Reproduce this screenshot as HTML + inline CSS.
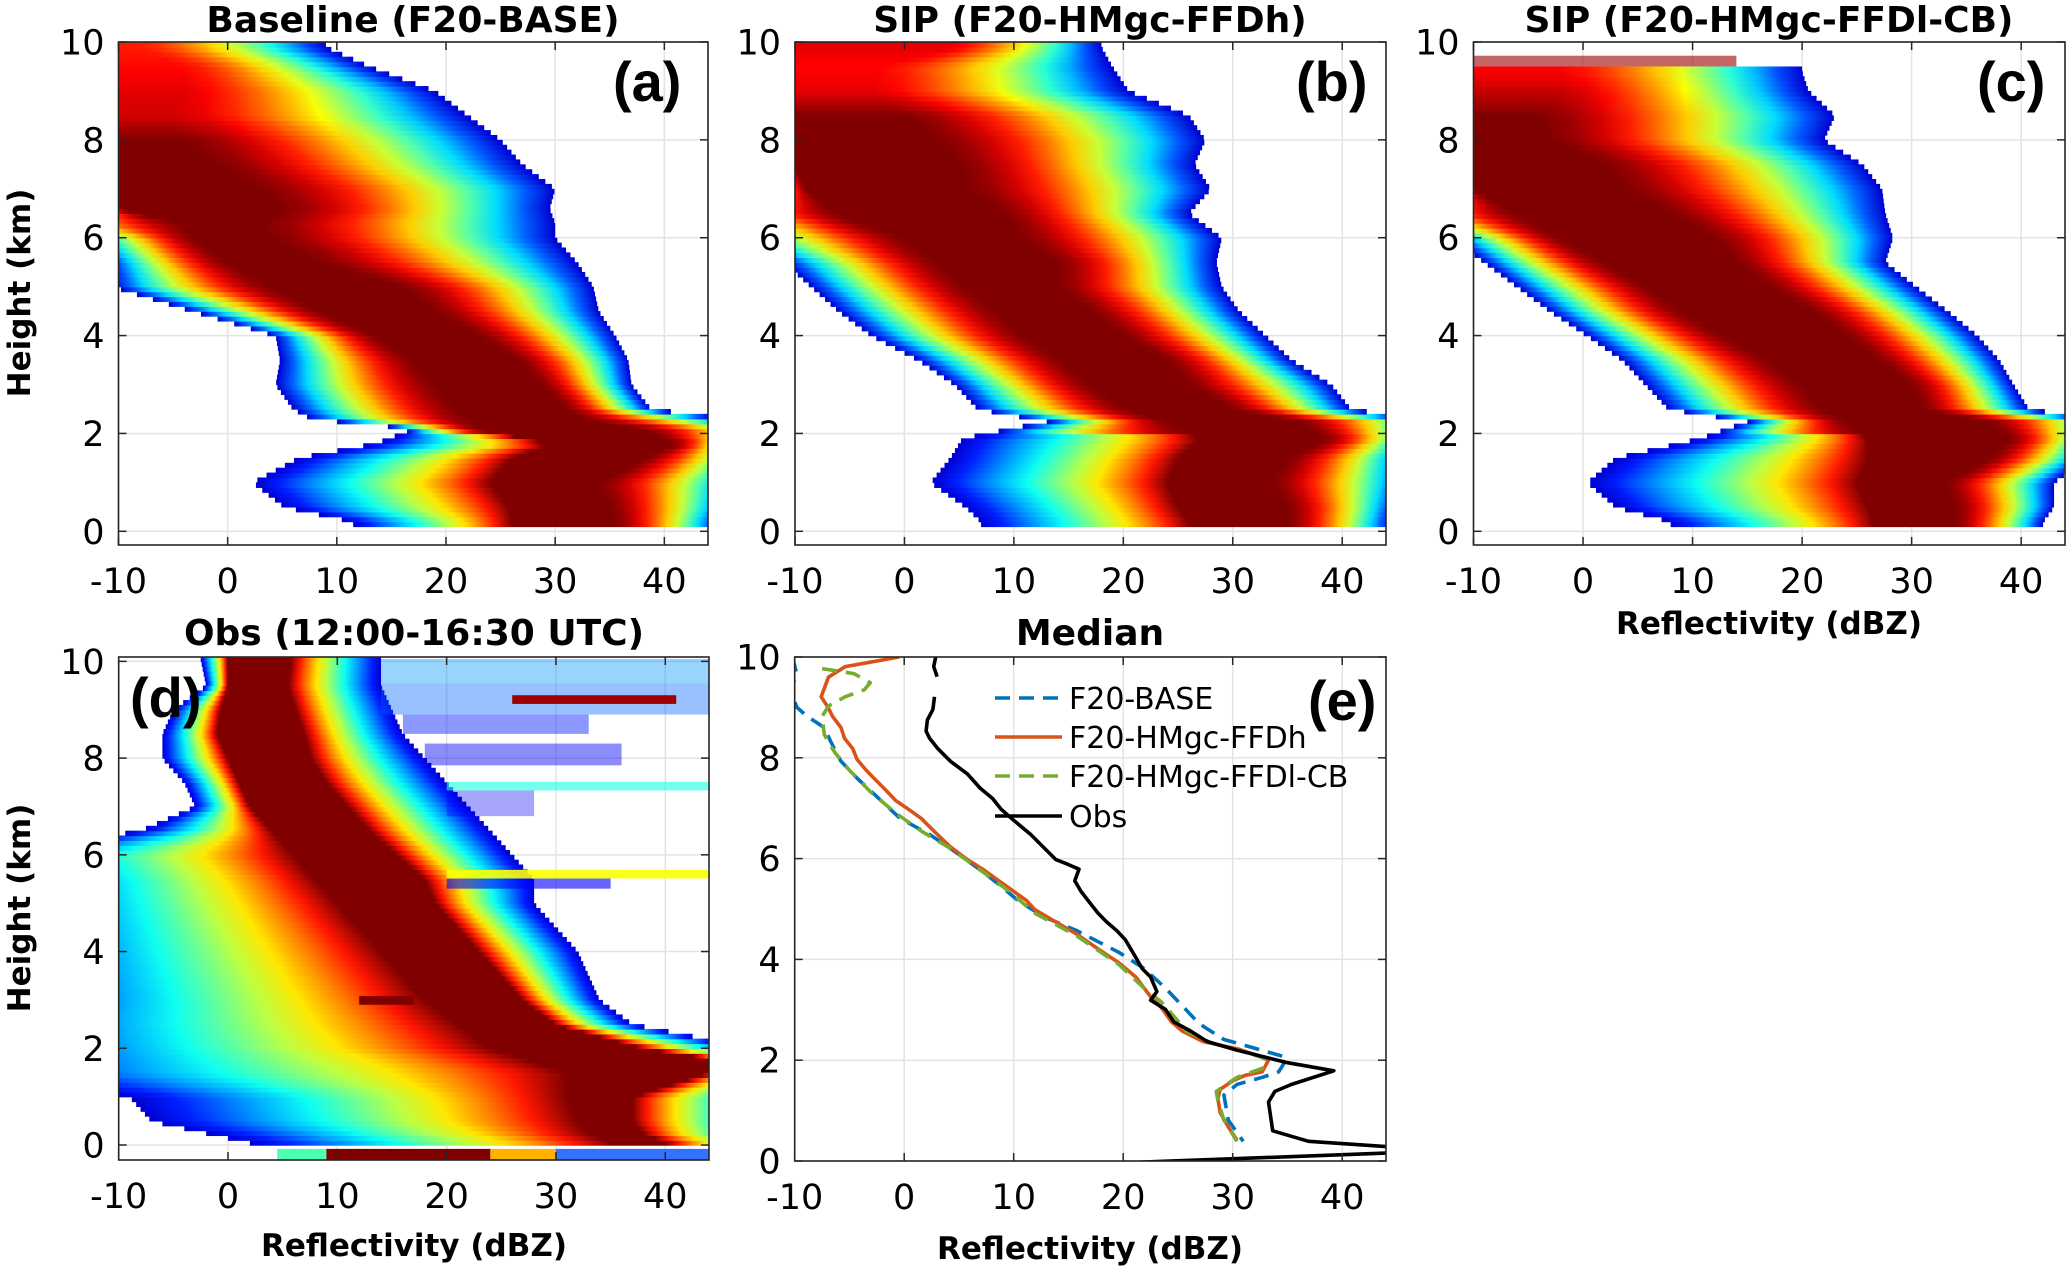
<!DOCTYPE html>
<html><head><meta charset="utf-8">
<style>
html,body{margin:0;padding:0;background:#fff;width:2067px;height:1270px;overflow:hidden}
svg{display:block}
.t{font-family:"DejaVu Sans","Liberation Sans",sans-serif;fill:#000}
.b{font-weight:bold}
.pl{font-family:"Liberation Sans",sans-serif;font-weight:bold;font-size:56px}
</style></head>
<body>
<svg id="fig" width="2067" height="1270" viewBox="0 0 2067 1270">
<defs id="defs"></defs>
<g id="layer"></g>
<text class="t b" x="413" y="32" font-size="36" text-anchor="middle">Baseline (F20-BASE)</text>
<text class="t b" x="1090" y="32" font-size="36" text-anchor="middle">SIP (F20-HMgc-FFDh)</text>
<text class="t b" x="1769" y="32" font-size="36" text-anchor="middle">SIP (F20-HMgc-FFDl-CB)</text>
<text class="t b" x="414" y="645" font-size="36" text-anchor="middle">Obs (12:00-16:30 UTC)</text>
<text class="t b" x="1090" y="645" font-size="36" text-anchor="middle">Median</text>
<text class="t b" font-size="31" text-anchor="middle" transform="translate(30,293) rotate(-90)">Height (km)</text>
<text class="t b" font-size="31" text-anchor="middle" transform="translate(30,908) rotate(-90)">Height (km)</text>
<text class="t b" x="1769" y="634" font-size="31" text-anchor="middle">Reflectivity (dBZ)</text>
<text class="t b" x="414" y="1256" font-size="31" text-anchor="middle">Reflectivity (dBZ)</text>
<text class="t b" x="1090" y="1259" font-size="31" text-anchor="middle">Reflectivity (dBZ)</text>
<text class="pl" x="613" y="101">(a)</text>
<text class="pl" x="1296" y="101">(b)</text>
<text class="pl" x="1977" y="101">(c)</text>
<text class="pl" x="130" y="717">(d)</text>
<text class="pl" x="1308" y="720">(e)</text>
</svg>
<script>
// ---- CFAD row data: [height km, left edge dBZ, core start, core end, right edge, peak level]
const rowsA = [
[9.9,-14,-10,-8,9,0.85],[9.5,-12,-10,-4,13,0.87],[9.0,-12,-10,-4,19,0.9],[8.5,-12,-10,-5,22,0.92],
[8.0,-12,-10,-4,25,1],[7.5,-12,-10,-1,27,1],[7.0,-12,-10,3,30,1],[6.6,-12,-10,5,29.5,1],
[6.3,-20,-4,3,30,1],[6.0,-13,-3,4,30,1],[5.5,-11,0,8.5,32,1],[5.0,-10.5,4,16,33.5,1],
[4.5,-3.2,8.6,19,34,1],[4.0,4.4,13.6,23,35.5,1],[3.5,4.8,17,26.6,36.7,1],[3.0,4.4,19,28.7,37,1],
[2.5,6,21,31,38.8,1],[2.3,7.7,22,32.5,46,1],[2.1,17,23,38,50,1],[1.8,13.6,29.6,41,47,1],
[1.5,6.5,26,38,48,1],[1.0,2.3,24,34,47,1],[0.5,5.2,25.8,35,46,1],[0.2,11.5,26,35.5,45,1]];
const rowsB = [
[9.9,-14,-10,4,18,0.9],[9.5,-12,-10,-2,19,0.87],[9.0,-12,-10,-3,20.5,0.9],[8.5,-12,-10,0,26,1],
[8.0,-12,-10,3,27.5,1],[7.5,-12,-10,5,26.5,1],[7.0,-12,-9,6,28,1],[6.5,-20,-6,9,26,1],
[6.0,-16,0,10.7,29,1],[5.5,-11,3,14,28.5,1],[5.0,-8.5,5.6,14,29,1],[4.5,-6,8.5,17,30.6,1],
[4.0,-3,11,20,33,1],[3.5,1.3,14.5,24,35.4,1],[3.0,4.6,17,26,39,1],[2.5,6.7,20.5,30,40.8,1],
[2.25,13,24,36,48,1],[1.9,5.3,27,38.5,47,1],[1.5,4.2,25,35,46,1],[1.0,2.4,24,33.5,46,1],
[0.5,5.6,25,35,45,1],[0.2,7,26,35,44.5,1]];
const rowsC = [
[9.4,-12,-10,-2,20,0.88],[9.0,-12,-10,-2,20.6,0.93],[8.5,-12,-10,-4,23,1],[8.0,-12,-10,-3,22,1],
[7.5,-12,-10,2,25.5,1],[7.0,-12,-10,4,27.3,1],[6.5,-20,-6,8,27.6,1],[6.0,-12,-2,12,28.3,1],
[5.5,-9,2,14,27.6,1],[5.0,-6,6,17,30.4,1],[4.5,-3,9,21,33.3,1],[4.0,0.4,13,24,36,1],
[3.5,3.6,17,27,38,1],[3.0,5.7,20,30,39.3,1],[2.5,7.8,22,31,40.7,1],[2.25,15,24,37,48,1],
[1.9,10.7,26,39,47,1],[1.5,3,26,37,46,1],[1.0,0.4,25,33,43,1],[0.5,3,26,34,43,1],[0.2,8,26.5,34,42,1]];
const rowsD = [
[10.05,-2.5,0,5.8,14,1],[9.5,-2,0,5.5,14,1],[9.0,-5,-0.7,6.2,15,1],[8.5,-6,-1,7,16,1],
[8.0,-6,0,7.6,18,1],[7.5,-4,1,9,20,1],[7.0,-3,2,11,22,1],[6.5,-8,4,13,24,1],
[6.0,-22,6,15.5,26,1],[5.5,-20,8,18,28,1],[5.0,-20,10,19,28,1],[4.5,-20,12,21,30,1],
[4.0,-20,14,23,32,1],[3.5,-20,16,25,33,1],[3.0,-20,18,27,34,1],[2.5,-22,21,30,37,1],
[2.0,-22,24,38,48,1],[1.8,-22,27,44,52,1],[1.5,-22,31,44,52,1],[1.0,-9,31,37,50,1],
[0.5,-7,32,37,50,1],[0.25,-2,33,38,50,1],[0.05,2,35,40,52,1]];
// streaks: [h0, h1, dBZ0, dBZ1, level, opacity]
const streaksC = [[9.5,9.72,-10,14,0.97,0.6]];
const streaksD = [
[9.55,10.05,14,44,0.27,0.4],[8.9,9.55,14,44,0.22,0.4],[9.12,9.3,26,41,0.97,1],[8.5,8.9,16,33,0.15,0.45],
[7.85,8.3,18,36,0.12,0.45],[7.33,7.51,20,44,0.4,0.6],[6.8,7.33,20,28,0.12,0.35],[5.51,5.69,20,44,0.62,0.9],
[5.3,5.51,20,35,0.12,0.6],[2.9,3.08,12,17,1,1],
[-0.3,-0.08,4.5,9,0.45,1],[-0.3,-0.08,9,24,1,1],[-0.3,-0.08,24,30,0.7,1],[-0.3,-0.08,30,44,0.2,0.8]];
// ---- Median profiles (panel e)
const baseH=[10,9.65,9.35,9.0,8.82,8.6,8.32,7.93,7.58,7.19,6.80,6.48,6.2,5.84,5.52,5.17,4.85,4.57,4.14,3.82,3.43,3.08,2.73,2.41,2.27,2.05,1.77,1.66,1.52,1.31,0.81,0.39];
const baseZ=[-10.2,-9.8,-10.4,-9.8,-8.85,-7.3,-6.7,-5.77,-4.23,-2.31,-0.38,2.31,4.23,6.54,8.46,10.38,12.7,15.77,19.6,21.9,23.85,25.4,26.9,29.2,31.5,35,34.2,32.7,30.4,29.2,29.6,30.96];
const hmH=[10,9.81,9.60,9.21,8.99,8.82,8.60,8.39,8.18,7.97,7.75,7.58,7.37,7.15,6.98,6.80,6.55,6.23,5.98,5.77,5.59,5.35,5.17,4.99,4.74,4.50,4.21,3.93,3.65,3.26,3.05,2.76,2.58,2.37,2.23,2.09,2.00,1.77,1.70,1.59,1.42,1.24,0.96,0.67,0.42];
const hmZ=[-0.46,-5.38,-6.92,-7.58,-6.92,-6.54,-5.77,-5.46,-4.69,-4.31,-3.46,-2.69,-1.73,-0.77,0.38,1.54,2.69,4.23,5.77,7.31,8.46,10.0,11.15,11.92,13.85,15.77,17.69,19.62,21.15,22.5,23.46,24.42,25.38,27.31,30.38,32.31,33.27,32.69,31.15,30.0,28.85,28.65,28.85,29.62,30.38];
const cbH=[9.77,9.67,9.49,9.35,9.21,9.03,8.82,8.46,8.11,7.75,7.33,6.9,6.55,6.2,5.84,5.35,4.92,4.46,3.9,3.43,3.15,2.58,2.34,2.16,2.02,1.84,1.66,1.38,1.2,0.81,0.39];
const cbZ=[-7.5,-4.6,-3.1,-3.65,-5.4,-6.9,-7.5,-7.3,-6.35,-5.0,-3.1,-0.77,1.54,4.23,6.54,9.6,11.9,15.8,19.6,21.9,23.5,25.8,28.1,31.2,33.1,32.7,30.4,28.5,28.65,29.2,30.4];
const obsH=[10.0,9.81,9.61,null,9.21,8.96,8.75,8.53,8.39,8.18,7.93,7.68,7.40,7.19,6.98,6.76,6.48,6.23,5.98,5.88,5.79,5.56,5.35,5.13,4.92,4.75,4.57,4.39,4.11,3.82,3.65,3.36,3.19,3.01,2.76,2.58,2.37,2.20,1.95,1.79,1.52,1.38,1.17,0.60,0.39,0.28,0.22,0.16,-0.04];
const obsZ=[2.88,2.69,3.0,null,2.77,2.62,2.12,2.0,2.31,3.08,4.23,5.77,6.92,8.08,8.85,10.0,11.54,12.69,13.85,15.0,15.96,15.58,16.15,16.92,17.69,18.46,19.42,20.19,20.96,21.73,22.5,23.08,22.5,23.85,24.62,26.15,27.69,30.38,35.0,39.23,35.38,33.85,33.27,33.65,36.92,44.5,48,44.5,19.6];
const xTicks=[-10,0,10,20,30,40];
const yTicks=[0,2,4,6,8,10];
const legendLabels=['F20-BASE','F20-HMgc-FFDh','F20-HMgc-FFDl-CB','Obs'];

const NS='http://www.w3.org/2000/svg';
const XMIN=-10, XMAX=44;
const panels={
 a:{x0:118.5,x1:708,top:42,bot:545,ymin:-0.28,ymax:10},
 b:{x0:795,x1:1386,top:42,bot:545,ymin:-0.28,ymax:10},
 c:{x0:1473.5,x1:2065,top:42,bot:545,ymin:-0.28,ymax:10},
 d:{x0:118.7,x1:709,top:657,bot:1160,ymin:-0.31,ymax:10.09},
 e:{x0:794.7,x1:1386,top:657,bot:1161,ymin:0,ymax:10}
};
const X=(p,v)=>p.x0+(v-XMIN)/(XMAX-XMIN)*(p.x1-p.x0);
const Y=(p,h)=>p.bot-(h-p.ymin)/(p.ymax-p.ymin)*(p.bot-p.top);
const defs=document.getElementById('defs');
const layer=document.getElementById('layer');
function mk(tag,attrs,parent){const e=document.createElementNS(NS,tag);for(const k in attrs)e.setAttribute(k,attrs[k]);(parent||layer).appendChild(e);return e;}
function cl(x){return Math.max(0,Math.min(1,x));}
function jet(v){const r=cl(1.5-Math.abs(4*v-3)),g=cl(1.5-Math.abs(4*v-2)),b=cl(1.5-Math.abs(4*v-1));
 return 'rgb('+Math.round(r*255)+','+Math.round(g*255)+','+Math.round(b*255)+')';}
const VMIN=0.08, NST=10;
let gid=0;

function axesBase(key){
 const p=panels[key];
 const g=mk('g',{});
 
 
 const cp=mk('clipPath',{id:'clip-'+key},defs);
 mk('rect',{x:p.x0,y:p.top,width:p.x1-p.x0,height:p.bot-p.top},cp);
 for(const t of xTicks){const gl=mk('line',{x1:X(p,t),x2:X(p,t),y1:p.top,y2:p.bot,stroke:'#e3e3e3','stroke-width':1.5},g);
  
  }
 for(const t of yTicks){const gl=mk('line',{x1:p.x0,x2:p.x1,y1:Y(p,t),y2:Y(p,t),stroke:'#e3e3e3','stroke-width':1.5},g);
  
  }
 const data=mk('g',{'clip-path':'url(#clip-'+key+')'},g);
 
 
 return {p,g,data};
}
function finishAxes(ax,key){
 const p=ax.p,g=mk('g',{});
 for(const t of xTicks){
  mk('line',{x1:X(p,t),x2:X(p,t),y1:p.bot,y2:p.bot-8,stroke:'#262626','stroke-width':1.5},g);
  mk('line',{x1:X(p,t),x2:X(p,t),y1:p.top,y2:p.top+8,stroke:'#262626','stroke-width':1.5},g);
  const tx=mk('text',{x:X(p,t),y:p.bot+48,'text-anchor':'middle','font-size':35,class:'t'},g);
  
  
  tx.textContent=t;
 }
 for(const t of yTicks){
  mk('line',{x1:p.x0,x2:p.x0+8,y1:Y(p,t),y2:Y(p,t),stroke:'#262626','stroke-width':1.5},g);
  mk('line',{x1:p.x1,x2:p.x1-8,y1:Y(p,t),y2:Y(p,t),stroke:'#262626','stroke-width':1.5},g);
  const tx=mk('text',{x:p.x0-14,y:Y(p,t)+12.5,'text-anchor':'end','font-size':35,class:'t'},g);
  
  
  tx.textContent=t;
 }
 const box=mk('rect',{x:p.x0,y:p.top,width:p.x1-p.x0,height:p.bot-p.top,fill:'none',stroke:'#262626','stroke-width':1.6},g);
 
 
}
function interp(s,y){
 if(y<=s[0][0])return s[0].slice(1);
 const L=s[s.length-1]; if(y>=L[0])return L.slice(1);
 for(let i=0;i<s.length-1;i++){if(y>=s[i][0]&&y<=s[i+1][0]){const t=(y-s[i][0])/(s[i+1][0]-s[i][0]);
  return s[i].slice(1).map((v,k)=>v+(s[i+1][k+1]-v)*t);}}
 return L.slice(1);
}
function rampV(g,pk,ex){return VMIN+(pk-VMIN)*(1-Math.pow(1-g,ex));}
function heat(key,rows,b0,b1,streaks,exHigh,exLowLeft,exRight){
 const ax=axesBase(key),p=ax.p;
 const s=rows.slice().sort((a,b)=>a[0]-b[0]);
 for(let y0=b0;y0<b1-1e-6;y0+=0.1){
  const y1=Math.min(y0+0.1,b1),yc=(y0+y1)/2;
  let [lo,c1,c2,hi,pk]=interp(s,yc);
  c1=Math.max(c1,lo); c2=Math.max(c2,c1); hi=Math.max(hi,c2+0.01);
  const exL = yc<2.0 ? exLowLeft : exHigh;
  const rx0=X(p,Math.max(lo,XMIN)),rx1=X(p,Math.min(hi,XMAX));
  if(rx1<=rx0)continue;
  const id='hg'+(gid++);
  const gr=mk('linearGradient',{id:id,gradientUnits:'userSpaceOnUse',x1:X(p,lo),x2:X(p,hi),y1:0,y2:0},defs);
  const pts=[];
  for(let k=0;k<=NST;k++)pts.push([lo+(c1-lo)*k/NST,rampV(k/NST,pk,exL)]);
  for(let k=0;k<=NST;k++)pts.push([c2+(hi-c2)*k/NST,rampV(1-k/NST,pk,exRight)]);
  for(const [xv,v] of pts)mk('stop',{offset:cl((xv-lo)/(hi-lo)),'stop-color':jet(v)},gr);
  const r=mk('rect',{x:rx0,y:Y(p,y1),width:rx1-rx0,height:Y(p,y0)-Y(p,y1)+0.7,fill:'url(#'+id+')'},ax.data);
  
  
 }
 for(const st of streaks){
  const [h0,h1,a0,a1,v,op]=st;
  const r=mk('rect',{x:X(p,a0),y:Y(p,h1),width:X(p,a1)-X(p,a0),height:Y(p,h0)-Y(p,h1),fill:jet(v),opacity:op},ax.data);
  
  
 }
 finishAxes(ax,key);
}
heat('a',rowsA,0.1,10,[],1.5,0.8,1.5);
heat('b',rowsB,0.1,10,[],1.5,0.8,1.5);
heat('c',rowsC,0.1,9.5,streaksC,1.5,0.8,1.5);
heat('d',rowsD,0.0,10.09,streaksD,0.8,0.8,0.8);

// panel e
const ax=axesBase('e'),pe=ax.p;
function line(H,Z,color,dash,name){
 let d='',pen=false;
 for(let i=0;i<H.length;i++){
  if(H[i]===null||Z[i]===null){pen=false;continue;}
  d+=(pen?'L':'M')+X(pe,Z[i]).toFixed(1)+','+Y(pe,H[i]).toFixed(1);pen=true;
 }
 const a={d:d,fill:'none',stroke:color,'stroke-width':3.6,'stroke-linejoin':'round'};
 if(dash)a['stroke-dasharray']=dash;
 const el=mk('path',a,ax.data);
 
 
}
line(baseH,baseZ,'#0072BD','15 9','median-line-f20-base');
line(hmH,hmZ,'#D95319',null,'median-line-f20-hmgc-ffdh');
line(cbH,cbZ,'#77AC30','15 9','median-line-f20-hmgc-ffdl-cb');
line(obsH,obsZ,'#000000',null,'median-line-obs');
finishAxes(ax,'e');
const legColors=['#0072BD','#D95319','#77AC30','#000000'];
const legDash=['15 9',null,'15 9',null];
const legY=[698,737,776,816];
const lg=mk('g',{});


for(let i=0;i<legendLabels.length;i++){
 const a={x1:995,x2:1062,y1:legY[i],y2:legY[i],stroke:legColors[i],'stroke-width':3.6};
 if(legDash[i])a['stroke-dasharray']=legDash[i];
 const ln=mk('line',a,lg);
 
 
 const tx=mk('text',{x:1069,y:legY[i]+11,'font-size':30,class:'t'},lg);
 
 
 tx.textContent=legendLabels[i];
}
</script>
</body></html>
